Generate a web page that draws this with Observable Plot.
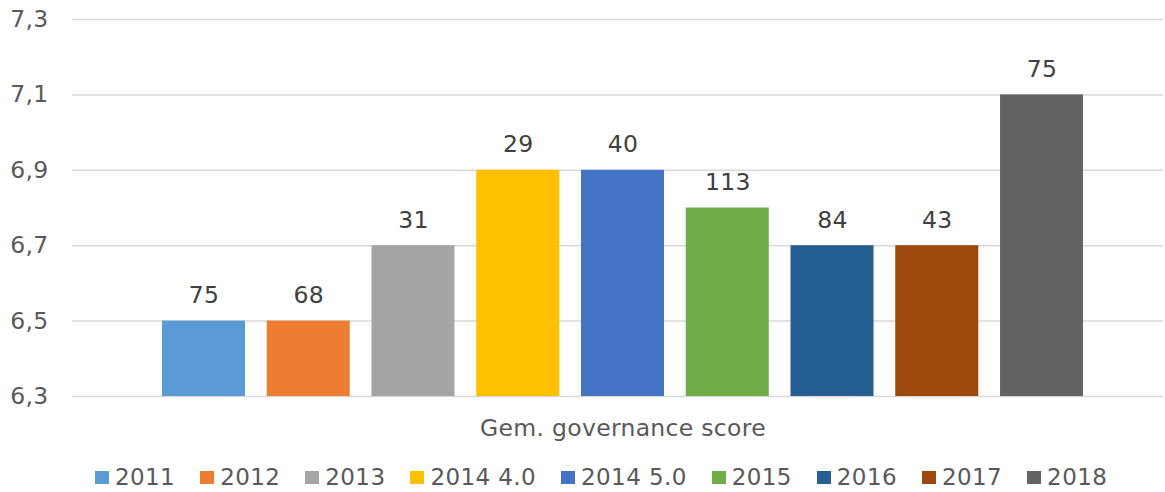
<!DOCTYPE html>
<html><head><meta charset="utf-8">
<script src="https://cdn.jsdelivr.net/npm/d3@7"></script>
<script src="https://cdn.jsdelivr.net/npm/@observablehq/plot@0.6"></script>
<style>
body{margin:0;background:#fff;font-family:"DejaVu Sans",Verdana,sans-serif;}
#chart{position:relative;width:1165px;height:492px;overflow:hidden;}
.legend{display:flex;align-items:center;position:absolute;left:95px;top:467px;font-size:23px;color:#595959;line-height:20px;letter-spacing:0.4px;}
.legend .item{display:flex;align-items:center;margin-right:25px;}
.legend .sw{width:14px;height:13px;margin-right:6px;}
</style></head><body><div id="chart"></div>
<script>
const series = ["2011","2012","2013","2014 4.0","2014 5.0","2015","2016","2017","2018"];
const scores = [6.5,6.5,6.7,6.9,6.9,6.8,6.7,6.7,7.1];
const counts = [75,68,31,29,40,113,84,43,75];
const colors = ["#5B9BD5","#ED7D31","#A5A5A5","#FFC000","#4472C4","#70AD47","#255E91","#9E480E","#636363"];
const yTicks = [6.3,6.5,6.7,6.9,7.1,7.3];
const category = "Gem. governance score";

const data = series.map((s,i)=>({series:s, score:scores[i], n:counts[i]}));
const fmt = d => d.toFixed(1).replace(".", ",");

const plot = Plot.plot({
  width:1165, height:455,
  marginLeft:72, marginRight:2, marginTop:19, marginBottom:59,
  style:{fontFamily:'"DejaVu Sans",Verdana,sans-serif', fontSize:"23.5px", color:"#595959", background:"#fff", letterSpacing:"0.3px"},
  x:{domain:series, range:[151.1,1093.9], paddingInner:0.2076, paddingOuter:0.1038, round:false, axis:null},
  y:{domain:[yTicks[0], yTicks[yTicks.length-1]], axis:null},
  color:{domain:series, range:colors},
  marks:[
    Plot.ruleY(yTicks,{stroke:"#d9d9d9", strokeWidth:1.5}),
    Plot.barY(data,{x:"series", y1:yTicks[0], y2:"score", fill:"series"}),
    Plot.text(data,{x:"series", y:"score", text:"n", dy:-18, lineAnchor:"bottom", fill:"#404040"}),
    Plot.axisY(yTicks,{tickSize:0, tickPadding:24, tickFormat:fmt, fill:"#595959", label:null}),
    Plot.text([category],{frameAnchor:"bottom", dy:23, dx:5, lineAnchor:"top", fill:"#595959"})
  ]
});
const root = document.getElementById("chart");
root.appendChild(plot);

const legend = d3.select(root).append("div").attr("class","legend");
const items = legend.selectAll(".item").data(series).join("div").attr("class","item");
items.append("div").attr("class","sw").style("background",(d,i)=>colors[i]);
items.append("span").text(d=>d);
</script></body></html>
